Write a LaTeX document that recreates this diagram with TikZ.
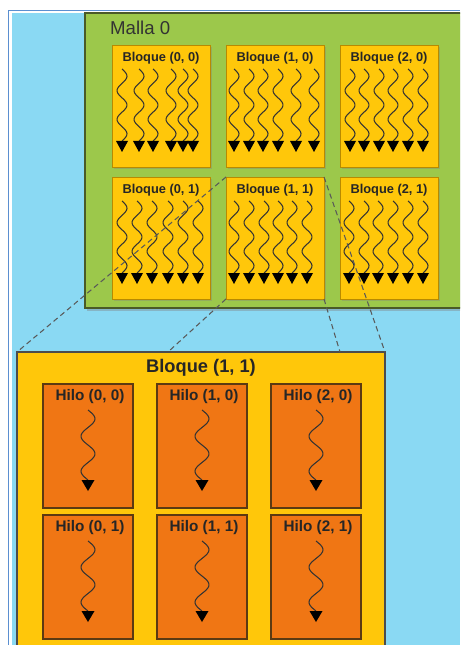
\documentclass[tikz,border=0pt]{standalone}
\usepackage{fontspec}
\setmainfont{Liberation Sans}
\usetikzlibrary{shadows}
\definecolor{cielo}{HTML}{8AD9F3}
\definecolor{marco}{HTML}{5B8FD0}
\definecolor{hierba}{HTML}{9CC84B}
\definecolor{oliva}{HTML}{4A5A28}
\definecolor{amarillo}{HTML}{FFC70A}
\definecolor{ocre}{HTML}{B88A00}
\definecolor{naranja}{HTML}{F07614}
\definecolor{marron}{HTML}{5C3A12}
\def\pxu{0.02cm}

\begin{document}
\begin{tikzpicture}[x=0.02cm, y=-0.02cm,
	caja/.style={anchor=north west, inner sep=0pt, outer sep=0pt},
	malla/.style={caja, fill=hierba, draw=oliva, line width=0.8pt, minimum width=400*\pxu, minimum height=295*\pxu, drop shadow={shadow xshift=1pt, shadow yshift=-1.5pt, opacity=0.4}},
	bloque/.style={caja, fill=amarillo, draw=ocre, line width=0.5pt, minimum width=98*\pxu, minimum height=122*\pxu, drop shadow={shadow xshift=1pt, shadow yshift=-1pt, opacity=0.35}},
	grande/.style={caja, fill=amarillo, draw=black!70, line width=0.6pt, minimum width=368*\pxu, minimum height=310*\pxu},
	hilo/.style={caja, fill=naranja, draw=marron, line width=1pt, minimum width=90*\pxu, minimum height=124*\pxu, drop shadow={shadow xshift=0.8pt, shadow yshift=-0.8pt, opacity=0.3}},
	rotulo/.style={font=\bfseries\fontsize{7.3}{8}\selectfont, text=black!85},
	rotulo hilo/.style={font=\bfseries\fontsize{8.7}{10}\selectfont, text=black!85},
	titulo/.style={font=\bfseries\fontsize{10.4}{12}\selectfont, text=black!85},
	onda/.style={draw=black!80, line width=0.6pt},
	guia/.style={densely dashed, draw=black!65, line width=0.6pt}
]
	\useasboundingbox (0,0) rectangle (460,645);
	\clip (0,0) rectangle (460,645);
	\fill[white] (0,0) rectangle (460,645);
	\draw[marco, line width=0.6pt] (8.5,645) -- (8.5,10.5) -- (460,10.5);
	\fill[cielo] (12,13) rectangle (460,645);

	\node[malla] (m0) at (85,13) {};
	\node[anchor=west, font=\fontsize{10.6}{12}\selectfont, text=black!80] (m0t) at (104,28) {Malla 0};

	\foreach \i/\j/\offs in {0/0/{10,27,41,59,71,81}, 1/0/{8,23,37,52,70,88}, 2/0/{10,24,39,53,68,83},
			0/1/{10,25,40,56,71,86}, 1/1/{8,23,38,52,66,81}, 2/1/{9,24,38,53,68,83}}{
		\pgfmathsetmacro\bx{112+114*\i}
		\pgfmathsetmacro\by{45+132*\j}
		\node[bloque] (b\i\j) at (\bx,\by) {};
		\node[rotulo] (t\i\j) at (\bx+49,\by+13) {Bloque (\i, \j)};
		\foreach \o in \offs {
			\draw[onda] plot[domain=0:72, samples=40, smooth] ({\bx+\o+5*sin(\x*12.5)}, {\by+24+\x});
			\fill (\bx+\o-6,\by+96) -- ++(12,0) -- ++(-6,11) -- cycle;
		}
	}

	\node[grande] (bg) at (17,352) {};
	\node[titulo] (bgt) at (201,368) {Bloque (1, 1)};

	\foreach \i/\j in {0/0, 1/0, 2/0, 0/1, 1/1, 2/1}{
		\pgfmathsetmacro\hx{43+114*\i}
		\pgfmathsetmacro\hy{384+131*\j}
		\node[hilo] (h\i\j) at (\hx,\hy) {};
		\node[rotulo hilo] (ht\i\j) at (\hx+47,\hy+13) {Hilo (\i, \j)};
		\draw[onda] plot[domain=0:70, samples=40, smooth] ({\hx+45+7*sin(\x*10.2857)}, {\hy+26+\x});
		\fill (\hx+38.5,\hy+96) -- ++(13,0) -- ++(-6.5,11) -- cycle;
	}

	\coordinate (g1) at (168,352);
	\coordinate (g2) at (340,352);
	\draw[guia] (b11.north west) -- (bg.north west);
	\draw[guia] (b11.south west) -- (g1);
	\draw[guia] (b11.north east) -- (bg.north east);
	\draw[guia] (b11.south east) -- (g2);
\end{tikzpicture}
\end{document}
